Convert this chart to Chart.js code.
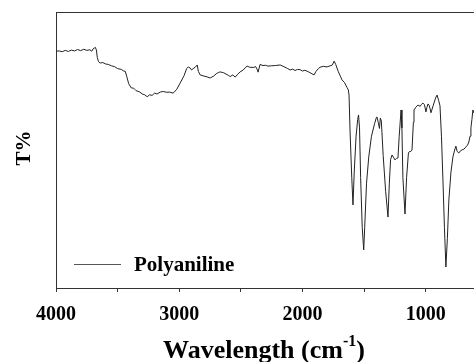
<!DOCTYPE html>
<html>
<head>
<meta charset="utf-8">
<script src="https://cdn.jsdelivr.net/npm/chart.js@4.4.0/dist/chart.umd.min.js"></script>
<style>
  html, body { margin: 0; padding: 0; background: #fff; }
  #wrap { width: 474px; height: 362px; position: relative; }
</style>
</head>
<body>
<div id="wrap"><canvas id="ftir"></canvas></div>
<script>
// données (cm-1 / T% en unités arbitraires)
const wavenumbers = [
  4000, 3975, 3950, 3925, 3900, 3875, 3850, 3825, 3800, 3775, 3750, 3725, 3710, 3700, 3690, 3681, 3672, 3665, 3655, 3641,
  3620, 3600, 3575, 3550, 3525, 3500, 3470, 3450, 3438, 3425, 3410, 3389, 3370, 3350, 3320, 3300, 3280, 3260, 3240, 3220,
  3200, 3180, 3154, 3130, 3100, 3080, 3049, 3020, 2992, 2960, 2940, 2927, 2911, 2900, 2887, 2870, 2854, 2845, 2830, 2800,
  2775, 2749, 2720, 2700, 2680, 2668, 2640, 2620, 2600, 2587, 2565, 2546, 2525, 2506, 2480, 2465, 2449, 2430, 2400, 2380,
  2365, 2360, 2344, 2320, 2300, 2280, 2250, 2220, 2181, 2150, 2120, 2100, 2080, 2060, 2040, 2019, 2000, 1980, 1950, 1930,
  1906, 1890, 1870, 1857, 1830, 1800, 1776, 1760, 1750, 1743, 1730, 1710, 1690, 1679, 1660, 1645, 1638, 1628, 1622, 1614,
  1600, 1590, 1580, 1565, 1552, 1545, 1537, 1528, 1515, 1503, 1495, 1480, 1462, 1440, 1415, 1400, 1395, 1385, 1375, 1368,
  1360, 1345, 1325, 1306, 1295, 1285, 1273, 1262, 1249, 1237, 1225, 1215, 1200, 1193, 1185, 1168, 1155, 1140, 1135, 1120,
  1111, 1100, 1095, 1080, 1062, 1045, 1035, 1022, 1010, 998, 990, 981, 970, 957, 940, 920, 908, 895, 884, 872,
  860, 848, 836, 824, 812, 795, 779, 765, 755, 745, 731, 720, 707, 690, 674, 660, 650, 640, 633, 625,
  617, 609
];
const transmittance = [
  85.8, 85.9, 85.6, 86.1, 85.7, 86.2, 85.9, 86.4, 86.0, 86.5, 86.1, 86.3, 85.8, 86.6, 86.9, 87.2, 86.2, 83.5, 82.0, 81.5,
  81.7, 81.2, 81.0, 80.5, 80.2, 79.5, 79.2, 78.6, 78.5, 76.5, 74.0, 72.5, 72.4, 71.5, 71.0, 70.3, 70.0, 69.3, 70.0, 69.8,
  70.6, 70.3, 71.0, 71.2, 70.9, 71.0, 70.6, 72.0, 74.3, 77.0, 79.5, 80.1, 79.7, 79.0, 79.5, 80.0, 80.8, 78.5, 77.2, 76.8,
  76.5, 76.1, 76.8, 77.6, 78.1, 78.3, 78.0, 77.5, 77.0, 76.6, 77.2, 76.4, 77.5, 78.3, 79.0, 79.8, 80.4, 80.0, 79.9, 80.2,
  79.0, 78.2, 81.0, 80.6, 80.7, 80.4, 80.5, 80.6, 80.8, 80.2, 79.5, 79.0, 79.3, 78.8, 79.2, 79.1, 78.6, 78.9, 78.3, 77.8,
  77.2, 78.5, 79.5, 80.0, 80.3, 80.1, 80.5, 80.7, 81.5, 82.2, 81.0, 78.5, 76.5, 75.4, 74.5, 73.2, 72.6, 71.8, 69.9, 57.2,
  40.0, 30.1, 42.0, 55.0, 61.0, 62.7, 58.0, 40.0, 22.0, 13.8, 22.0, 38.0, 47.5, 55.0, 59.5, 61.8, 62.0, 60.0, 57.8, 61.6,
  60.5, 48.0, 35.0, 25.7, 38.0, 46.5, 48.2, 47.4, 46.4, 47.0, 47.1, 55.0, 64.5, 58.0, 40.0, 26.8, 40.0, 49.0, 49.3, 49.5,
  50.0, 60.0, 64.5, 65.5, 66.3, 65.8, 66.5, 67.0, 66.4, 63.8, 65.5, 66.7, 66.0, 63.5, 66.0, 68.8, 69.9, 68.0, 66.0, 55.0,
  39.1, 22.0, 7.6, 18.0, 31.9, 42.0, 47.5, 50.0, 51.4, 49.5, 48.9, 49.6, 50.0, 50.3, 51.1, 51.8, 52.9, 55.0, 58.0, 61.0,
  64.5, 63.4
];
const tickValues = [4000, 3500, 3000, 2500, 2000, 1500, 1000];
const majorTicks = [4000, 3000, 2000, 1000];
const seriesLabel = 'Polyaniline';

const serif = '"Liberation Serif", "Times New Roman", serif';

// cadre, légende et titres dessinés à la main
const decorPlugin = {
  id: 'decor',
  afterDraw(chart) {
    const { ctx, chartArea: a } = chart;
    ctx.save();
    // bord supérieur
    ctx.strokeStyle = '#333';
    ctx.lineWidth = 1;
    ctx.beginPath();
    ctx.moveTo(a.left, a.top + 0.5);
    ctx.lineTo(a.right, a.top + 0.5);
    ctx.stroke();

    // légende
    ctx.strokeStyle = '#555';
    ctx.beginPath();
    ctx.moveTo(74, 264.5);
    ctx.lineTo(121, 264.5);
    ctx.stroke();
    ctx.fillStyle = '#000';
    ctx.font = 'bold 21px ' + serif;
    ctx.textBaseline = 'alphabetic';
    ctx.textAlign = 'left';
    ctx.fillText(seriesLabel, 134, 271);

    // titre Y
    ctx.save();
    ctx.translate(30, 148);
    ctx.rotate(-Math.PI / 2);
    ctx.textAlign = 'center';
    ctx.font = 'bold 21px ' + serif;
    ctx.fillText('T%', 0, 0);
    ctx.restore();

    // titre X avec exposant
    const main = 'Wavelength (cm';
    const sup = '-1';
    const end = ')';
    ctx.font = 'bold 26px ' + serif;
    const wMain = ctx.measureText(main).width;
    const wEnd = ctx.measureText(end).width;
    ctx.font = 'bold 16px ' + serif;
    const wSup = ctx.measureText(sup).width;
    let x = 264 - (wMain + wSup + wEnd) / 2;
    const y = 358;
    ctx.font = 'bold 26px ' + serif;
    ctx.fillText(main, x, y);
    x += wMain;
    ctx.font = 'bold 16px ' + serif;
    ctx.fillText(sup, x, y - 12);
    x += wSup;
    ctx.font = 'bold 26px ' + serif;
    ctx.fillText(end, x, y);
    ctx.restore();
  }
};

const points = wavenumbers.map((w, i) => ({ x: w, y: transmittance[i] }));

new Chart(document.getElementById('ftir'), {
  type: 'line',
  data: {
    datasets: [{
      label: seriesLabel,
      data: points,
      borderColor: '#222',
      borderWidth: 1,
      pointRadius: 0,
      tension: 0,
      fill: false
    }]
  },
  options: {
    responsive: true,
    maintainAspectRatio: false,
    animation: false,
    layout: { padding: { top: 12, right: 0, left: 0, bottom: 0 } },
    plugins: {
      legend: { display: false },
      tooltip: { enabled: false }
    },
    scales: {
      x: {
        type: 'linear',
        reverse: true,
        min: 608,
        max: 4000,
        afterBuildTicks: s => { s.ticks = tickValues.map(v => ({ value: v })); },
        grid: { display: true, drawOnChartArea: false, drawTicks: true, tickLength: 4, color: '#333' },
        border: { display: true, color: '#333', width: 1 },
        ticks: {
          autoSkip: false,
          maxRotation: 0,
          padding: 11,
          color: '#000',
          font: { family: serif, size: 20, weight: 'bold' },
          callback: v => majorTicks.includes(v) ? String(v) : ''
        },
        afterFit: s => { s.height = 74; s.paddingLeft = 0; s.paddingRight = 0; }
      },
      y: {
        min: 0,
        max: 100,
        grid: { display: false },
        border: { display: true, color: '#333', width: 1 },
        ticks: { display: false },
        afterFit: s => { s.width = 56; }
      }
    }
  },
  plugins: [decorPlugin]
});
</script>
</body>
</html>
